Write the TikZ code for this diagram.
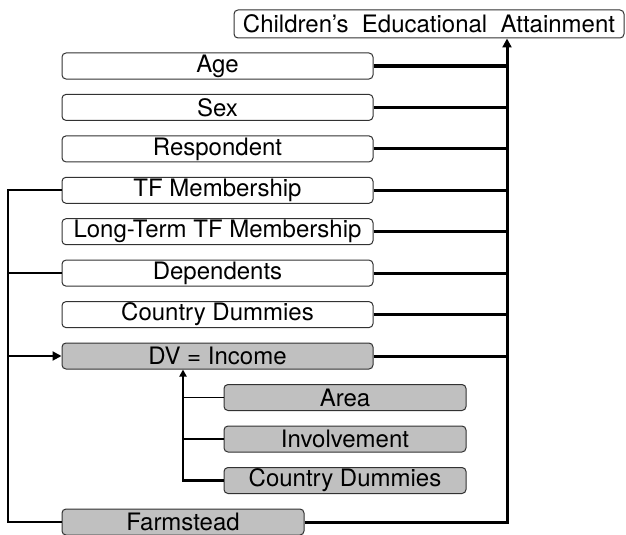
\documentclass[tikz,border=0pt]{standalone}
\usepackage{fontspec}
\setmainfont{TeX Gyre Heros}
\usetikzlibrary{arrows.meta}
\definecolor{boxgray}{RGB}{192,192,192}
\definecolor{edgegray}{RGB}{50,50,50}
\tikzset{
  basebox/.style={draw=edgegray, line width=1pt, rounded corners=4pt, inner sep=0pt,
    minimum height=26pt, font=\fontsize{24}{28}\selectfont, text=black, anchor=center},
  wbox/.style={basebox, fill=white},
  gbox/.style={basebox, fill=boxgray},
  leftcol/.style={minimum width=311pt},
  subcol/.style={minimum width=242pt},
  busline/.style={line width=3pt},
  sideline/.style={line width=2pt},
  subline/.style={line width=1.5pt},
  subbus/.style={line width=2.5pt},
  tip/.style={-{Triangle[length=9pt,width=9pt]}},
  smalltip/.style={-{Triangle[length=7pt,width=7pt]}},
}
\begin{document}
\begin{tikzpicture}[x=1pt,y=-1pt]
\useasboundingbox (0,0) rectangle (626,535);
\coordinate (busx) at (507,0);
\coordinate (lx) at (8,0);
\coordinate (ix) at (183,0);
\node[wbox, minimum width=390pt, minimum height=28pt] (top) at (429,24) {Children’s\ \ Educational\ \ Attainment};
\node[wbox, leftcol] (age) at (217.5,66) {Age};
\node[wbox, leftcol] (sex) at (217.5,107.4) {Sex};
\node[wbox, leftcol] (resp) at (217.5,148.9) {Respondent};
\node[wbox, leftcol] (tf) at (217.5,190.3) {TF Membership};
\node[wbox, leftcol] (ltf) at (217.5,231.7) {Long-Term TF Membership};
\node[wbox, leftcol] (dep) at (217.5,273.1) {Dependents};
\node[wbox, leftcol] (cd) at (217.5,314.6) {Country Dummies};
\node[gbox, leftcol] (dv) at (217.5,356) {DV = Income};
\node[gbox, subcol] (area) at (345,397.5) {Area};
\node[gbox, subcol] (inv) at (345,439) {Involvement};
\node[gbox, subcol] (cd2) at (345,480.5) {Country Dummies};
\node[gbox, subcol] (farm) at (183,522) {Farmstead};
% right bus
\draw[busline, tip] (farm.east) -| (top.south -| busx);
\foreach \n in {age,sex,resp,tf,ltf,dep,cd,dv}{
  \draw[busline] (\n.east) -- (\n.east -| busx);
}
% left bus
\draw[sideline] (tf.west) -- (tf.west -| lx) |- (farm.west);
\draw[sideline] (dep.west) -- (dep.west -| lx);
\coordinate (dvl) at (dv.west -| lx);
\draw[sideline, tip] (dvl) -- (dv.west);
% inner bus
\draw[subbus, smalltip] (cd2.west) -| (dv.south -| ix);
\draw[subline] (area.west) -- (area.west -| ix);
\draw[subline] (inv.west) -- (inv.west -| ix);
\end{tikzpicture}
\end{document}
